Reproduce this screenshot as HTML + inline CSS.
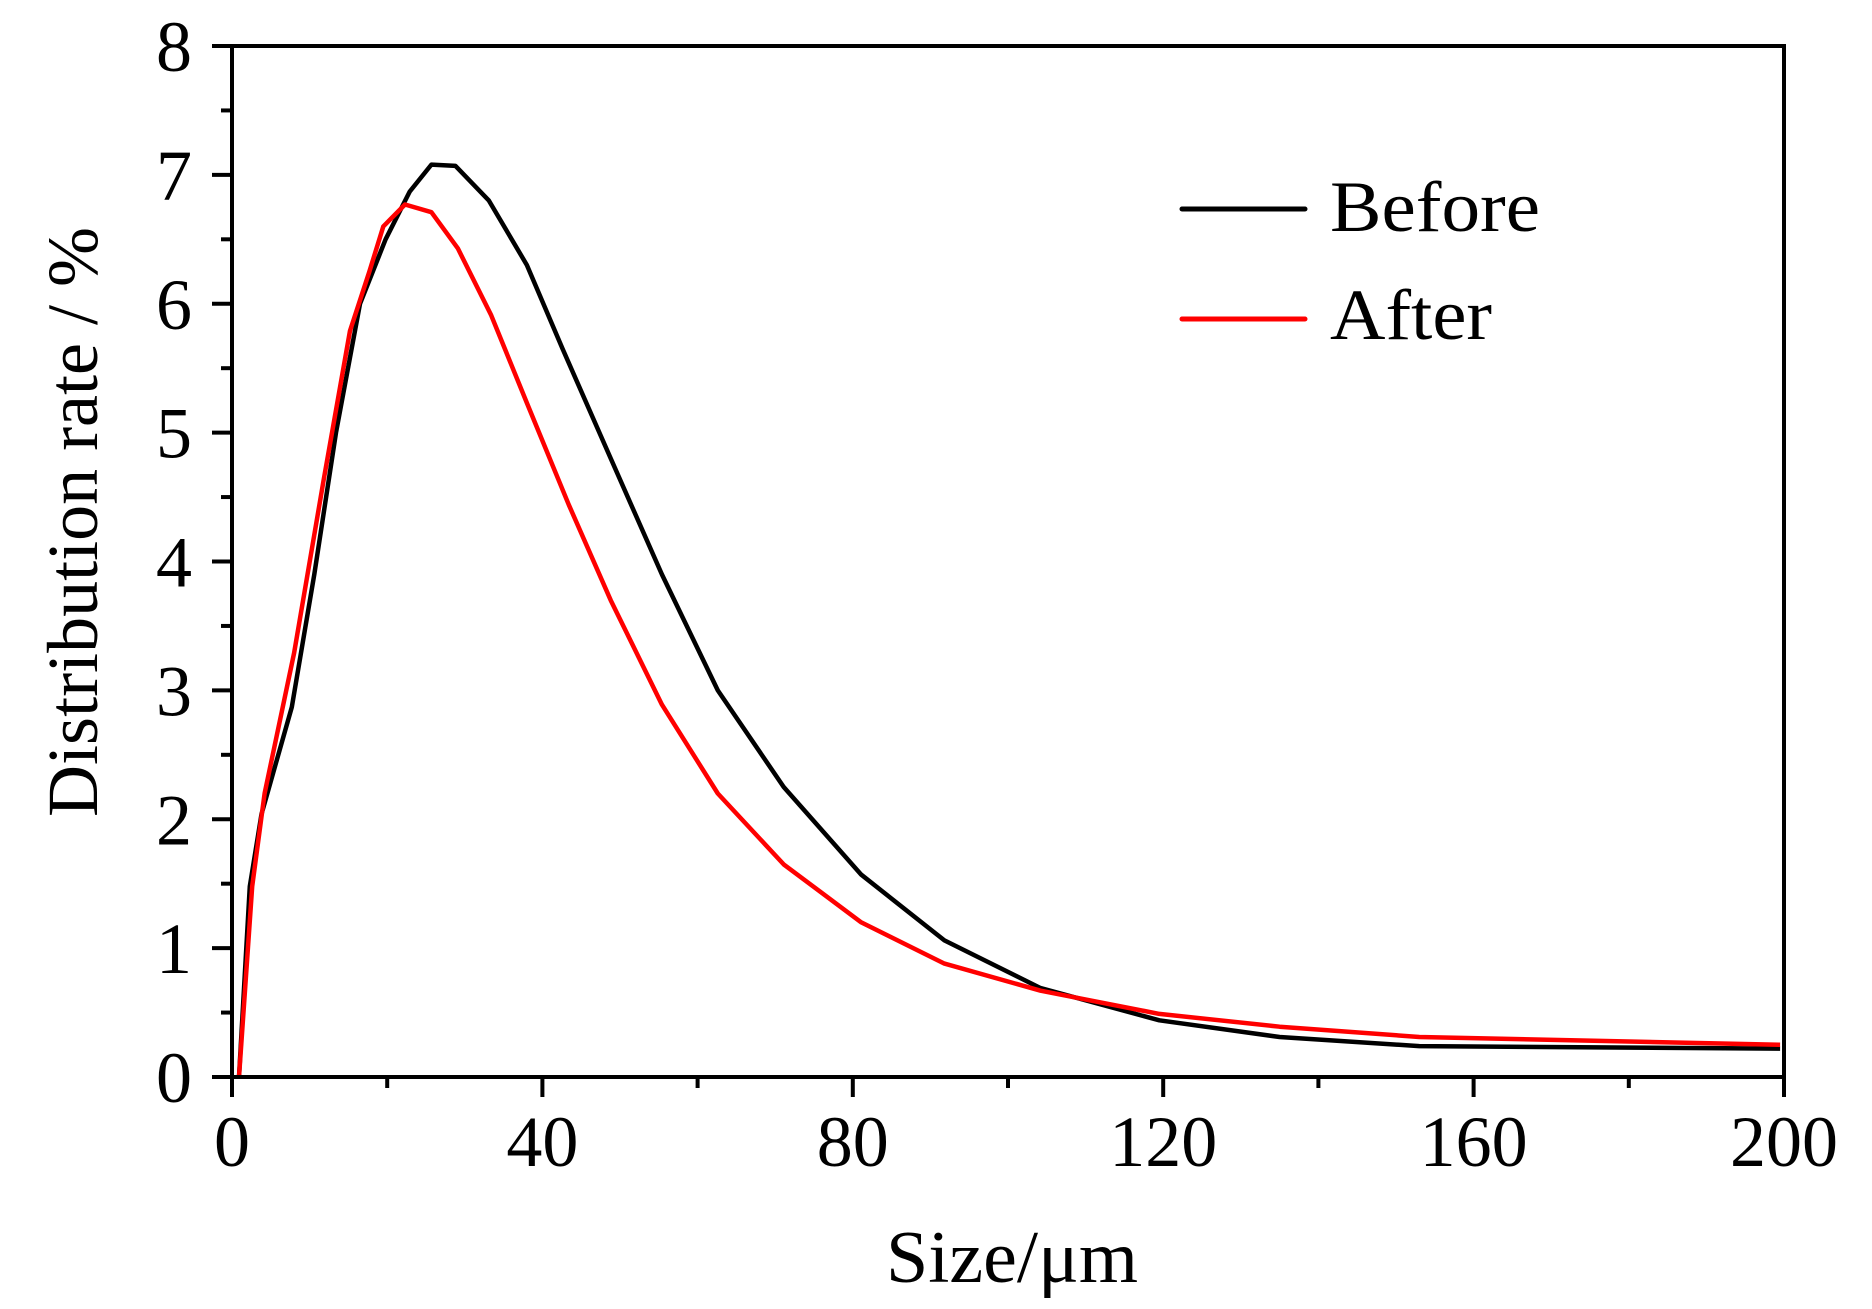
<!DOCTYPE html>
<html><head><meta charset="utf-8"><style>
html,body{margin:0;padding:0;background:#fff;}
svg{display:block;font-family:"Liberation Serif",serif;}
</style></head><body>
<svg id="chart" width="1872" height="1309" viewBox="0 0 1872 1309">
<g id="plot"></g>
</svg>
<script>
const xTicks=[0,40,80,120,160,200];
const yTicks=[0,1,2,3,4,5,6,7,8];
const beforeX=[0.9,2.3,3.8,7.7,10.6,13.4,16.5,19.8,22.9,25.7,28.8,33.1,38,42.6,48.8,55.4,62.6,71.1,81.1,91.8,104.2,119.5,135,153,199.5];
const beforeY=[0,1.48,2.04,2.87,3.9,5,6.0,6.5,6.87,7.08,7.07,6.8,6.3,5.65,4.8,3.9,3.0,2.25,1.57,1.06,0.69,0.44,0.31,0.24,0.22];
const afterX=[0.9,2.6,4.2,8,11.8,15.2,17.7,19.5,22.3,25.7,29.1,33.4,38,43.4,48.8,55.4,62.6,71.1,81.1,91.8,104.2,119.5,135,153,199.5];
const afterY=[0,1.48,2.2,3.29,4.63,5.79,6.25,6.6,6.77,6.71,6.43,5.91,5.23,4.44,3.7,2.89,2.2,1.65,1.2,0.88,0.67,0.49,0.39,0.31,0.25];

const L=232,R=1784,T=46,B=1077;
const sx=v=>L+(v-0)/(200-0)*(R-L);
const sy=v=>B-(v-0)/(8-0)*(B-T);
const NS="http://www.w3.org/2000/svg";
const g=document.getElementById('plot');
function mk(tag,attrs,parent){const e=document.createElementNS(NS,tag);for(const k in attrs)e.setAttribute(k,attrs[k]);(parent||g).appendChild(e);return e;}

for(let v=0;v<=200;v+=20){
  const major=v%40===0;
  const t=mk('line',{x1:sx(v),x2:sx(v),y1:B,y2:B+(major?20:11),stroke:'#000','stroke-width':4});
  
  
}
for(let v=0;v<=8;v+=0.5){
  const major=Number.isInteger(v);
  const t=mk('line',{x1:L-(major?20:11),x2:L,y1:sy(v),y2:sy(v),stroke:'#000','stroke-width':4});
  
  
}
xTicks.forEach(v=>{
  const t=mk('text',{x:sx(v),y:1166,'text-anchor':'middle','font-size':72});
  t.textContent=v;
  
  
});
yTicks.forEach(v=>{
  const t=mk('text',{x:192,y:sy(v)+25,'text-anchor':'end','font-size':72});
  t.textContent=v;
  
  
});
function series(xs,ys,color,name){
  const d=xs.map((x,i)=>(i?'L':'M')+sx(x).toFixed(1)+','+sy(ys[i]).toFixed(1)).join(' ');
  const p=mk('path',{d:d,fill:'none',stroke:color,'stroke-width':4.5,'stroke-linejoin':'round'});
  
  
}
series(beforeX,beforeY,'#000','before-line');
series(afterX,afterY,'#ff0000','after-line');
const f=mk('rect',{x:L,y:T,width:R-L,height:B-T,fill:'none',stroke:'#000','stroke-width':4});


const lg=mk('g',{});


[['Before','#000',209,231],['After','#ff0000',319,339]].forEach(([lab,c,ly,ty])=>{
  const l=mk('line',{x1:1182,x2:1305,y1:ly,y2:ly,stroke:c,'stroke-width':5,'stroke-linecap':'round'},lg);
  
  
  const t=mk('text',{x:1330,y:ty,'font-size':72,textLength:lab==='Before'?210:162,lengthAdjust:'spacingAndGlyphs'},lg);
  t.textContent=lab;
  
  
});
const xt=mk('text',{x:1012,y:1282,'text-anchor':'middle','font-size':74,textLength:252,lengthAdjust:'spacingAndGlyphs'});
xt.textContent='Size/μm';


const yt=mk('text',{x:0,y:0,'text-anchor':'middle','font-size':72,transform:'translate(97,522) rotate(-90)'});
yt.textContent='Distribution rate / %';


</script>
</body></html>
